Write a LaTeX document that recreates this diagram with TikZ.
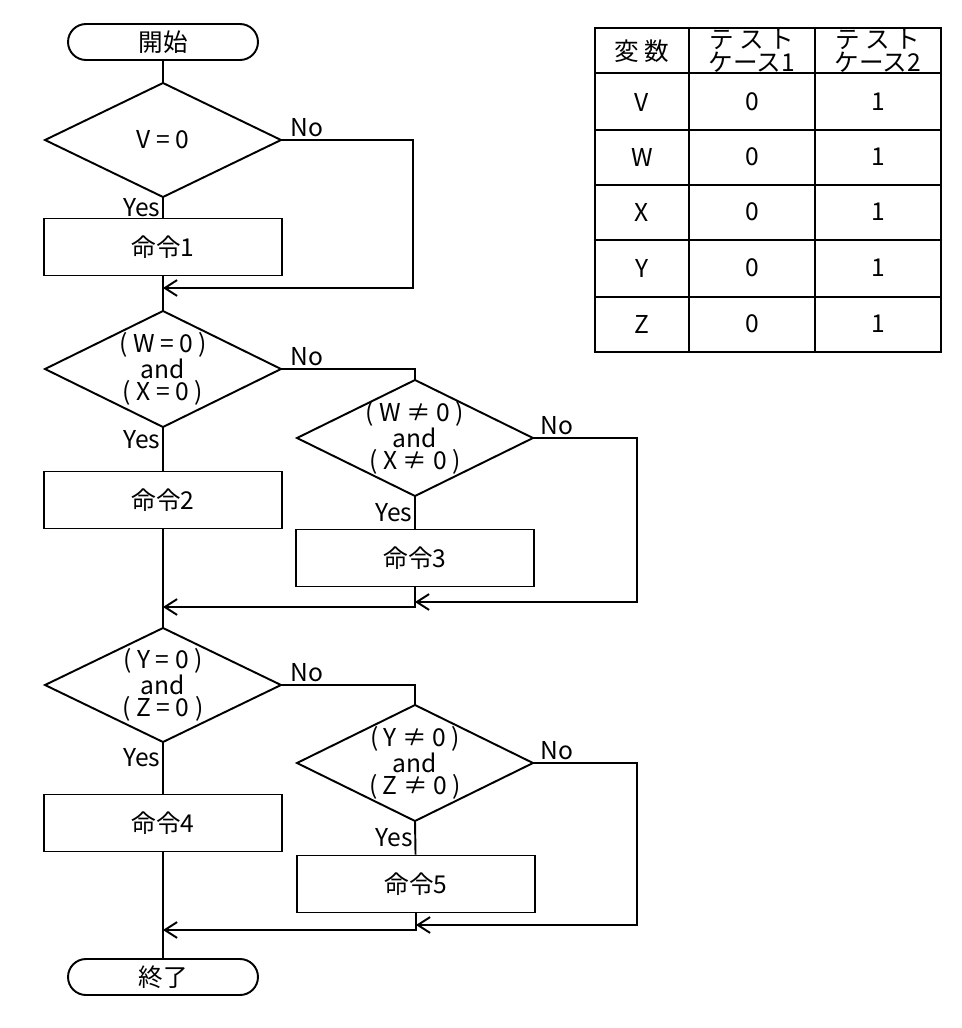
\documentclass[tikz,border=0pt]{standalone}
\usepackage{fontspec}
\setmainfont{Noto Sans CJK JP}
\usetikzlibrary{arrows.meta}
\begin{document}
\begin{tikzpicture}[x=0.02cm,y=-0.02cm,line width=1.1pt,
  font=\fontsize{14}{14}\selectfont,
  arr/.style={-{Straight Barb[length=7pt,width=9pt]}},
  lbl/.style={inner sep=1pt},
  ml/.style={align=center,inner sep=0pt,font=\fontsize{14}{11.5}\selectfont},
  proc/.style={draw,minimum width=4.76cm,minimum height=1.14cm},
  term/.style={draw,rounded corners=0.36cm,minimum width=3.8cm,minimum height=0.72cm}]
\useasboundingbox (0,0) rectangle (961,1028);
\newcommand\dia[5]{% name cx cy hw hh
  \coordinate (#1) at (#2,#3);
  \coordinate (#1-t) at (#2,#3-#5); \coordinate (#1-b) at (#2,#3+#5);
  \coordinate (#1-l) at (#2-#4,#3); \coordinate (#1-r) at (#2+#4,#3);
  \draw (#1-t)--(#1-r)--(#1-b)--(#1-l)--cycle;}
\node[term] (st) at (163,42) {開始};
\dia{d1}{163}{140}{118}{57}
\node at (d1) {V = 0};
\node[proc] (p1) at (163,247) {命令1};
\dia{d2}{163}{369}{118}{58}
\node[ml] at (d2) {( W = 0 )\\and\\( X = 0 )};
\dia{d3}{415}{438}{118}{58}
\node[ml] at (d3) {( W ≠ 0 )\\and\\( X ≠ 0 )};
\node[proc] (p2) at (163,500) {命令2};
\node[proc] (p3) at (415,558) {命令3};
\dia{d4}{163}{685}{118}{57}
\node[ml] at (d4) {( Y = 0 )\\and\\( Z = 0 )};
\dia{d5}{415}{763}{118}{58}
\node[ml] at (d5) {( Y ≠ 0 )\\and\\( Z ≠ 0 )};
\node[proc] (p4) at (163,823) {命令4};
\node[proc] (p5) at (416,884) {命令5};
\node[term] (en) at (163,977) {終了};
\coordinate (m1) at (163,288);
\coordinate (m2) at (163,607);
\coordinate (m3) at (415,602);
\coordinate (m4) at (163,930);
\coordinate (m5) at (416,925);
\draw (st)--(d1-t);
\draw (d1-b)--(p1) node[pos=0.5,left,lbl] {Yes};
\draw (p1)--(d2-t);
\draw[arr] (d1-r) -- node[above right,lbl,pos=0.05] {No} (413,140)--(413,288)--(m1);
\draw (d2-b)--(p2) node[pos=0.3,left,lbl] {Yes};
\draw (d2-r) -- node[above right,lbl,pos=0.05] {No} (415,369)--(d3-t);
\draw (d3-b)--(p3) node[pos=0.5,left,lbl] {Yes};
\draw[arr] (d3-r) -- node[above right,lbl,pos=0.05] {No} (637,438)--(637,602)--(m3);
\draw[arr] (p3.south)--(415,607)--(m2);
\draw (p2)--(d4-t);
\draw (d4-b)--(p4) node[pos=0.3,left,lbl] {Yes};
\draw (d4-r) -- node[above right,lbl,pos=0.05] {No} (415,685)--(d5-t);
\draw (d5-b)--(p5) node[pos=0.5,left,lbl] {Yes};
\draw[arr] (d5-r) -- node[above right,lbl,pos=0.05] {No} (637,763)--(637,925)--(m5);
\draw[arr] (p5.south)--(416,930)--(m4);
\draw (p4)--(en);
\draw (595,28) rectangle (941,352);
\foreach \y in {73,130,185,240,297} \draw (595,\y)--(941,\y);
\foreach \x in {689,815} \draw (\x,28)--(\x,352);
\node (h1) at (642,51) {変 数};
\node[ml] (h2) at (752,51) {テ ス ト\\ケース1};
\node[ml] (h3) at (878,51) {テ ス ト\\ケース2};
\foreach \v/\y in {V/102,W/157,X/212,Y/268,Z/324}{
  \node at (642,\y) {\v}; \node at (752,\y) {0}; \node at (878,\y) {1};}
\end{tikzpicture}
\end{document}
